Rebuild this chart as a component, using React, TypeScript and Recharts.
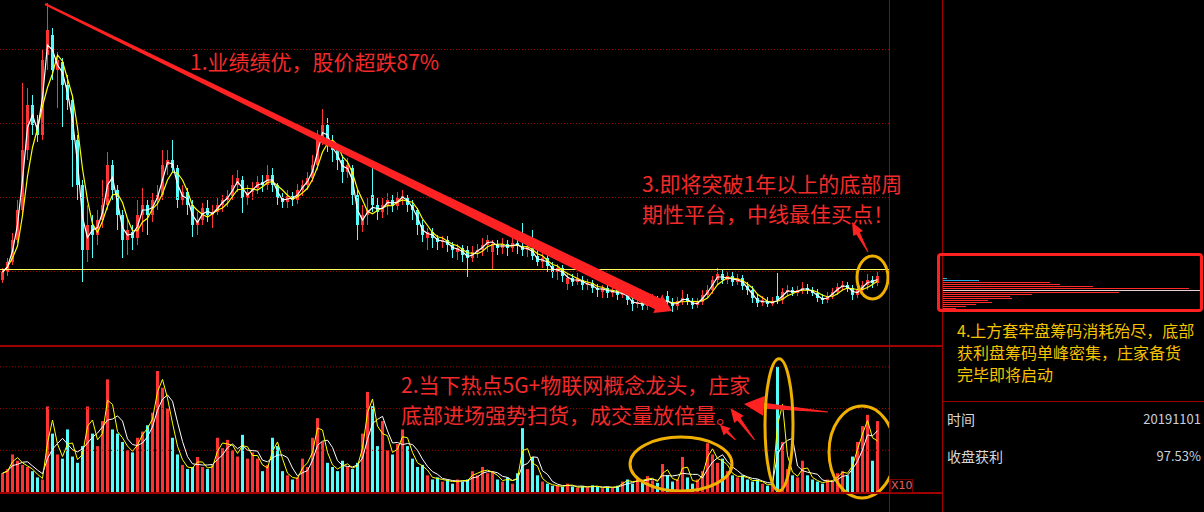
import React from 'react';
import { ComposedChart, BarChart, Bar, Line, XAxis, YAxis, ReferenceLine, ReferenceDot, Cell } from 'recharts';

// ---------- data ----------
const openP = [
  6.5, 7.3, 8.3, 10.5, 13.5, 19.5, 24.0, 22.0, 21.0, 29.0,
  31.0, 27.5, 28.3, 26.0, 24.5, 20.5, 16.0, 9.5, 12.0, 11.0,
  12.5, 14.0, 18.0, 15.5, 13.0, 10.5, 11.3, 10.7, 13.0, 14.0,
  13.0, 14.5, 15.0, 18.0, 18.5, 17.7, 14.5, 15.3, 14.0, 12.0,
  12.5, 13.7, 13.0, 13.3, 14.0, 14.5, 14.9, 16.0, 16.5, 14.7,
  15.3, 15.7, 16.3, 16.0, 17.0, 16.0, 14.7, 14.3, 14.9, 14.5,
  15.5, 16.0, 16.7, 18.0, 20.5, 22.0, 20.0, 19.5, 18.5, 17.3,
  17.7, 15.0, 12.0, 13.0, 15.0, 14.0, 13.3, 14.0, 14.5, 13.9,
  14.7, 14.7, 14.0, 13.5, 12.0, 10.7, 11.3, 10.7, 10.3, 10.5,
  10.0, 9.3, 9.7, 9.5, 8.7, 9.3, 9.5, 10.0, 9.3, 10.1,
  9.7, 10.1, 9.7, 10.2, 9.9, 9.5, 9.7, 8.9, 8.3, 8.7,
  7.9, 7.3, 7.7, 6.1, 6.7, 6.3, 6.5, 6.0, 6.2, 5.7,
  5.3, 5.7, 5.2, 5.5, 5.0, 5.2, 4.5, 4.1, 4.3, 3.9,
  4.3, 4.5, 4.2, 4.9, 4.3, 3.9, 4.4, 4.7, 4.4, 4.0,
  4.3, 5.0, 5.5, 6.5, 7.1, 6.5, 6.9, 6.3, 6.7, 5.9,
  5.5, 4.7, 4.2, 4.4, 4.1, 4.9, 4.5, 5.3, 5.5, 5.2,
  5.5, 5.7, 5.5, 5.2, 4.7, 4.5, 4.9, 5.3, 5.8, 6.0,
  5.7, 5.0, 5.5, 6.0, 6.5, 6.2,
];
const closeP = [
  7.3, 8.3, 10.5, 13.5, 19.5, 24.0, 22.0, 21.0, 28.5, 31.5,
  27.5, 28.5, 26.0, 24.5, 20.5, 16.0, 9.5, 12.0, 11.0, 12.5,
  14.0, 18.0, 15.5, 13.0, 10.5, 11.5, 10.7, 13.0, 14.0, 13.0,
  14.5, 15.0, 18.0, 18.5, 17.7, 14.5, 15.3, 14.0, 12.0, 12.5,
  13.7, 13.0, 13.3, 14.0, 14.5, 14.9, 16.0, 16.7, 14.7, 15.3,
  15.7, 16.3, 16.0, 17.0, 16.0, 14.7, 14.3, 14.9, 14.5, 15.5,
  16.0, 16.7, 18.0, 20.5, 22.0, 20.0, 19.5, 18.5, 17.3, 18.0,
  15.0, 12.0, 13.0, 13.5, 14.0, 13.3, 14.0, 14.5, 13.9, 14.7,
  14.9, 14.0, 13.5, 12.0, 11.0, 11.3, 10.7, 10.3, 10.5, 10.0,
  9.5, 9.7, 9.0, 8.7, 9.3, 9.5, 10.0, 10.5, 10.1, 9.7,
  10.1, 9.7, 10.2, 9.9, 9.5, 9.8, 8.9, 8.3, 8.7, 7.9,
  7.3, 7.7, 6.9, 6.7, 6.3, 6.7, 6.0, 6.2, 5.7, 5.5,
  5.7, 5.2, 5.5, 5.0, 5.3, 4.5, 4.1, 4.3, 3.9, 4.3,
  4.5, 4.2, 4.5, 4.3, 3.9, 4.4, 4.7, 4.4, 4.0, 4.3,
  5.0, 5.5, 6.5, 7.1, 6.5, 6.9, 6.3, 6.7, 5.9, 5.5,
  4.7, 4.2, 4.5, 4.1, 4.4, 4.5, 5.3, 5.5, 5.2, 5.5,
  5.7, 5.5, 5.2, 4.7, 4.5, 4.9, 5.3, 5.8, 6.0, 5.7,
  5.0, 5.5, 6.0, 6.5, 6.2, 6.9,
];
const highP = [
  7.7, 8.7, 11.2, 14.5, 26.2, 25.7, 25.0, 23.0, 29.5, 34.2,
  31.7, 29.3, 28.7, 27.0, 25.0, 21.0, 16.5, 14.0, 13.0, 13.5,
  16.5, 19.3, 18.5, 16.0, 13.5, 12.5, 12.0, 14.5, 15.7, 14.5,
  15.2, 16.0, 19.5, 19.5, 20.5, 18.0, 16.0, 15.7, 14.5, 13.3,
  14.2, 14.5, 14.0, 14.7, 15.0, 15.5, 17.0, 17.5, 16.9, 16.0,
  16.3, 16.9, 17.0, 18.0, 17.7, 16.2, 15.2, 15.5, 15.3, 16.1,
  16.5, 17.3, 19.0, 21.5, 23.6, 22.7, 21.0, 20.0, 19.0, 18.7,
  18.0, 15.5, 14.0, 14.7, 17.8, 14.7, 14.7, 15.2, 15.0, 15.3,
  15.5, 15.0, 14.5, 13.7, 12.5, 11.7, 11.7, 11.0, 10.9, 10.9,
  10.3, 10.1, 10.0, 9.9, 9.9, 10.1, 10.7, 11.0, 10.5, 10.5,
  10.7, 10.5, 10.7, 10.7, 12.2, 10.5, 11.5, 9.5, 9.3, 9.0,
  8.3, 8.1, 8.0, 7.1, 7.1, 7.2, 6.9, 6.6, 6.5, 6.1,
  6.0, 6.0, 5.9, 5.8, 6.1, 5.5, 4.9, 4.7, 4.7, 4.9,
  5.1, 4.9, 5.0, 5.4, 4.7, 4.8, 5.5, 5.1, 4.7, 4.7,
  5.5, 6.0, 6.9, 7.7, 7.5, 7.3, 7.3, 7.1, 7.0, 6.3,
  5.9, 5.1, 4.9, 4.8, 4.8, 7.2, 5.7, 6.0, 5.8, 5.9,
  6.3, 6.1, 5.8, 5.6, 5.1, 5.3, 5.7, 6.2, 6.4, 6.3,
  6.0, 5.9, 6.4, 7.1, 6.9, 7.3,
];
const lowP = [
  6.2, 6.9, 8.0, 10.2, 13.0, 18.5, 21.0, 20.3, 20.5, 27.5,
  26.5, 23.7, 21.8, 23.5, 15.8, 14.5, 6.3, 8.3, 8.7, 10.0,
  11.7, 13.5, 14.5, 11.5, 8.7, 9.0, 9.5, 10.0, 11.3, 11.0,
  12.3, 13.5, 14.5, 17.0, 17.3, 13.7, 14.0, 13.0, 10.8, 11.0,
  12.0, 12.3, 11.7, 13.0, 13.3, 13.8, 14.5, 15.3, 13.2, 14.0,
  14.5, 15.1, 15.3, 15.5, 15.3, 14.0, 13.7, 13.7, 13.9, 14.1,
  14.9, 15.5, 16.3, 17.5, 20.0, 19.3, 18.3, 17.5, 16.2, 16.7,
  14.0, 10.5, 11.3, 12.0, 13.3, 12.5, 12.7, 13.0, 13.3, 13.5,
  14.0, 13.3, 12.5, 11.0, 10.3, 9.5, 9.7, 9.5, 9.7, 9.3,
  8.7, 8.5, 8.3, 6.8, 8.3, 8.7, 8.9, 9.3, 7.5, 9.0,
  9.1, 8.9, 9.3, 9.1, 8.9, 8.8, 8.5, 7.9, 7.7, 7.3,
  6.7, 6.5, 6.3, 5.5, 5.9, 6.0, 5.5, 5.5, 5.2, 4.8,
  4.7, 4.7, 4.8, 4.5, 4.7, 4.0, 3.4, 3.7, 3.5, 3.5,
  3.8, 3.7, 3.7, 3.9, 3.3, 3.5, 4.0, 4.0, 3.6, 3.7,
  4.0, 4.7, 5.1, 6.1, 6.1, 6.1, 5.9, 6.0, 5.5, 5.0,
  4.2, 3.8, 3.9, 3.8, 3.9, 4.1, 4.1, 4.9, 4.9, 4.9,
  5.1, 5.1, 4.9, 4.3, 4.1, 4.2, 4.6, 5.0, 5.4, 5.3,
  4.5, 4.7, 5.2, 5.5, 5.7, 5.9,
];
const volume = [
  4.5, 5.5, 9.0, 7.5, 6.5, 6.0, 5.0, 3.5, 3.0, 20.5,
  14.0, 9.0, 8.0, 15.0, 8.5, 7.0, 11.0, 20.5, 14.0, 11.0,
  17.0, 27.0, 15.0, 14.0, 12.0, 10.0, 9.5, 13.0, 14.5, 16.0,
  19.0, 29.0, 25.0, 20.0, 13.0, 9.0, 6.5, 5.5, 6.0, 8.4,
  6.0, 5.5, 6.5, 13.0, 10.5, 12.5, 10.0, 8.5, 13.7, 8.0,
  9.5, 8.0, 5.0, 6.5, 13.0, 11.0, 5.0, 4.0, 3.0, 3.5,
  8.0, 6.0, 13.0, 17.7, 12.0, 7.0, 6.0, 5.0, 7.5, 6.0,
  5.5, 7.0, 14.0, 24.0, 20.6, 11.0, 17.0, 10.0, 9.0, 11.5,
  15.0, 11.0, 8.0, 6.0, 6.5, 4.0, 3.0, 3.5, 2.5, 3.0,
  2.0, 3.0, 2.5, 3.0, 5.0, 4.0, 6.0, 4.5, 5.0, 3.0,
  2.5, 3.5, 2.0, 4.5, 15.3, 5.5, 8.4, 4.0, 2.5, 2.0,
  1.5, 1.5, 1.2, 2.0, 1.3, 1.0, 1.4, 1.1, 1.6, 1.2,
  0.9, 1.3, 1.0, 1.5, 2.5, 3.0, 2.0, 3.2, 2.4, 3.8,
  2.8, 2.2, 6.7, 4.0, 2.5, 3.0, 8.4, 3.5, 2.0, 3.0,
  5.0, 11.7, 9.0, 7.0, 8.0, 5.0, 4.0, 3.5, 4.0, 3.0,
  2.5, 3.0, 2.0, 1.5, 2.0, 30.0, 12.0, 5.5, 4.0, 3.5,
  7.5, 4.0, 3.0, 2.5, 2.0, 3.0, 2.5, 4.5, 5.0, 4.0,
  8.5, 12.0, 15.8, 18.5, 7.5, 17.0,
];

// chip distribution (price level -> chips)
const chipPrice = [6.7, 6.5, 6.3, 6.1, 5.9, 5.7, 5.5, 5.3, 5.1, 4.9, 4.7, 4.5, 4.3, 4.1, 3.9, 3.7];
const chipAmount = [5, 37, 108, 118, 151, 247, 261, 177, 90, 68, 70, 46, 50, 34, 24, 14];
const chipKind = ['trapped', 'trapped', 'profit', 'profit', 'profit', 'profit', 'average', 'profit', 'profit', 'profit', 'profit', 'profit', 'profit', 'profit', 'profit', 'profit'];

const priceGrid = [7.35, 14.75, 22.15, 29.55];
const volumeGrid = [10, 20, 30];
const platformPrice = 7.55;

// ---------- styles ----------
const RED = '#ff3434';
const CYAN = '#54fcfc';
const GRID = '#a00000';
const FRAME = '#a00000';
const NOTE_RED = '#f22a2a';
const GOLD = '#f0b000';

function movingAverage(values: number[], n: number) {
  return values.map((_, i) => {
    const s = Math.max(0, i - n + 1);
    const w = values.slice(s, i + 1);
    return w.reduce((a, b) => a + b, 0) / w.length;
  });
}

const maFast = movingAverage(closeP, 2);
const maSlow = movingAverage(closeP, 4);
const vmaFast = movingAverage(volume, 2);
const vmaSlow = movingAverage(volume, 4);

const rows = openP.map((o, i) => ({
  i,
  open: o,
  close: closeP[i],
  high: highP[i],
  low: lowP[i],
  range: [lowP[i], highP[i]],
  maFast: maFast[i],
  maSlow: maSlow[i],
  vol: volume[i],
  vmaFast: vmaFast[i],
  vmaSlow: vmaSlow[i],
}));

const chipRows = chipPrice.map((p, k) => ({ price: p, amt: chipAmount[k], kind: chipKind[k] }));
const chipColor: Record<string, string> = { trapped: '#2ab0e8', profit: '#ff2a2a', average: '#e8d0d0' };

const Candle = (props: any) => {
  const { x, y, width, height, payload } = props;
  if (!payload) return null;
  const { open, close, high, low } = payload;
  const top = Math.min(y, y + height);
  const h = Math.abs(height);
  const ppu = h / Math.max(high - low, 1e-6);
  const yo = top + (high - open) * ppu;
  const yc = top + (high - close) * ppu;
  const color = close >= open ? RED : CYAN;
  const bodyTop = Math.min(yo, yc);
  const bodyH = Math.max(Math.abs(yo - yc), 1);
  const cx = x + width / 2;
  return (
    <g>
      <line x1={cx} x2={cx} y1={top} y2={top + h} stroke={color} strokeWidth={1} />
      <rect x={x} y={bodyTop} width={width} height={bodyH} fill={color} />
    </g>
  );
};

function arrowShape(w0: number, w1: number, headLen: number, headHalf: number, color: string) {
  return (p: any) => {
    const { x1, y1, x2, y2 } = p;
    const dx = x2 - x1;
    const dy = y2 - y1;
    const L = Math.hypot(dx, dy) || 1;
    const ux = dx / L;
    const uy = dy / L;
    const nx = -uy;
    const ny = ux;
    const bx = x2 - ux * headLen;
    const by = y2 - uy * headLen;
    const pts = [
      [x1 + (nx * w0) / 2, y1 + (ny * w0) / 2],
      [bx + (nx * w1) / 2, by + (ny * w1) / 2],
      [bx + nx * headHalf, by + ny * headHalf],
      [x2, y2],
      [bx - nx * headHalf, by - ny * headHalf],
      [bx - (nx * w1) / 2, by - (ny * w1) / 2],
      [x1 - (nx * w0) / 2, y1 - (ny * w0) / 2],
    ];
    return <polygon points={pts.map((q) => q.join(',')).join(' ')} fill={color} />;
  };
}

function ellipseShape(rx: number, ry: number) {
  return (p: any) => (
    <ellipse cx={p.cx} cy={p.cy} rx={rx} ry={ry} fill="none" stroke={GOLD} strokeWidth={3} />
  );
}

const abs = (l: number, t: number, w: number, h: number, bg: string): React.CSSProperties => ({
  position: 'absolute', left: l, top: t, width: w, height: h, background: bg,
});

const noteStyle = (l: number, t: number, size: number, color: string, lh: number): React.CSSProperties => ({
  position: 'absolute', left: l, top: t, fontSize: size, lineHeight: `${lh}px`, color,
  whiteSpace: 'nowrap', fontFamily: '"Noto Sans CJK SC", sans-serif',
});

export default function App() {
  return (
    <div style={{ position: 'absolute', left: 0, top: 0, width: 1204, height: 512, background: '#000', overflow: 'hidden', fontFamily: '"Noto Sans CJK SC", sans-serif' }}>
      {/* price panel */}
      <div style={{ position: 'absolute', left: 0, top: 0 }}>
        <ComposedChart width={889} height={345} data={rows} margin={{ top: 0, right: 0, bottom: 0, left: 0 }}>
          <XAxis type="number" dataKey="i" domain={[-0.5, 177.3]} hide allowDataOverflow />
          <YAxis type="number" domain={[0, 34.5]} hide allowDataOverflow />
          {priceGrid.map((v) => (
            <ReferenceLine key={v} y={v} stroke={GRID} strokeDasharray="1 2" />
          ))}
          <ReferenceLine y={platformPrice} stroke="#ffff60" strokeWidth={1} />
          <Bar dataKey="range" barSize={3} shape={Candle} isAnimationActive={false} />
          <Line dataKey="maSlow" type="linear" stroke="#ffff00" strokeWidth={1.2} dot={false} activeDot={false} isAnimationActive={false} />
          <Line dataKey="maFast" type="linear" stroke="#ffffff" strokeWidth={1.2} dot={false} activeDot={false} isAnimationActive={false} />
          <ReferenceLine segment={[{ x: 8.5, y: 34.1 }, { x: 133.9, y: 3.4 }]} ifOverflow="visible" shape={arrowShape(2, 12, 16, 10, '#ff2222')} />
          <ReferenceLine segment={[{ x: 173.1, y: 9.3 }, { x: 169.9, y: 12.3 }]} ifOverflow="visible" shape={arrowShape(1, 4, 13, 5.5, '#ff2222')} />
          <ReferenceDot x={174} y={6.75} r={1} ifOverflow="visible" shape={ellipseShape(15.5, 21.5)} />
        </ComposedChart>
      </div>

      {/* volume panel */}
      <div style={{ position: 'absolute', left: 0, top: 346 }}>
        <ComposedChart width={889} height={166} data={rows} margin={{ top: 0, right: 0, bottom: 20, left: 0 }}>
          <XAxis type="number" dataKey="i" domain={[-0.5, 177.3]} hide allowDataOverflow />
          <YAxis type="number" domain={[0, 35]} hide allowDataOverflow />
          {volumeGrid.map((v) => (
            <ReferenceLine key={v} y={v} stroke={GRID} strokeDasharray="1 2" />
          ))}
          <Bar dataKey="vol" barSize={3} isAnimationActive={false}>
            {rows.map((r) => (
              <Cell key={r.i} fill={r.close >= r.open ? RED : CYAN} />
            ))}
          </Bar>
          <Line dataKey="vmaSlow" type="linear" stroke="#ffffff" strokeWidth={1} dot={false} activeDot={false} isAnimationActive={false} />
          <Line dataKey="vmaFast" type="linear" stroke="#ffff00" strokeWidth={1} dot={false} activeDot={false} isAnimationActive={false} />
          <ReferenceLine segment={[{ x: 165.1, y: 19.2 }, { x: 148.3, y: 21.1 }]} ifOverflow="visible" shape={arrowShape(1, 6, 20, 10, '#ff2222')} />
          <ReferenceLine segment={[{ x: 150.4, y: 12.5 }, { x: 145.6, y: 20.1 }]} ifOverflow="visible" shape={arrowShape(1, 4, 14, 6, '#ff2222')} />
          <ReferenceLine segment={[{ x: 146.6, y: 12.5 }, { x: 143.5, y: 16.1 }]} ifOverflow="visible" shape={arrowShape(1, 3, 10, 5, '#ff2222')} />
          <ReferenceDot x={135.7} y={6.7} r={1} ifOverflow="visible" shape={ellipseShape(51, 27)} />
          <ReferenceDot x={155.3} y={16.1} r={1} ifOverflow="visible" shape={ellipseShape(14, 66)} />
          <ReferenceDot x={171.9} y={9.6} r={1} ifOverflow="visible" shape={ellipseShape(33, 46)} />
        </ComposedChart>
      </div>

      {/* chip distribution */}
      <div style={{ position: 'absolute', left: 942, top: 0 }}>
        <BarChart layout="vertical" width={262} height={345} data={chipRows} margin={{ top: 0, right: 0, bottom: 0, left: 0 }}>
          <XAxis type="number" domain={[0, 262]} hide allowDataOverflow />
          <YAxis type="number" dataKey="price" domain={[0, 34.5]} reversed hide allowDataOverflow />
          <Bar dataKey="amt" barSize={1} isAnimationActive={false}>
            {chipRows.map((r, k) => (
              <Cell key={k} fill={chipColor[r.kind]} />
            ))}
          </Bar>
        </BarChart>
      </div>

      {/* frame lines */}
      <div style={abs(0, 345, 942, 2, FRAME)} />
      <div style={abs(0, 492, 942, 2, FRAME)} />
      <div style={abs(889, 0, 1, 512, FRAME)} />
      <div style={abs(942, 0, 1, 512, FRAME)} />
      <div style={abs(942, 401, 262, 1, FRAME)} />

      {/* chip frame */}
      <div style={{ position: 'absolute', left: 937, top: 253, width: 260, height: 53, border: '3px solid #ff2020', borderRadius: 4 }} />

      {/* X10 label */}
      <div style={{ position: 'absolute', left: 890, top: 479, width: 21, height: 12, border: '1px solid #7a0000', color: '#e06060', fontSize: 11, lineHeight: '12px', textAlign: 'center', fontFamily: 'DejaVu Sans, sans-serif' }}>X10</div>

      {/* annotations */}
      <div style={noteStyle(190, 46, 21, NOTE_RED, 30)}>1.业绩绩优，股价超跌87%</div>
      <div style={noteStyle(642, 168, 21, NOTE_RED, 30)}>
        3.即将突破1年以上的底部周<br />期性平台，中线最佳买点！
      </div>
      <div style={noteStyle(401, 369, 21, NOTE_RED, 30)}>
        2.当下热点5G+物联网概念龙头，庄家<br />底部进场强势扫货，成交量放倍量。
      </div>
      <div style={noteStyle(957, 319, 16, '#f5c400', 22)}>
        4.上方套牢盘筹码消耗殆尽，底部<br />获利盘筹码单峰密集，庄家备货<br />完毕即将启动
      </div>

      {/* info */}
      <div style={noteStyle(947, 409, 14, '#d8d8d8', 20)}>时间</div>
      <div style={{ ...noteStyle(0, 409, 13, '#c8d0dc', 20), left: 'auto', right: 3 }}>20191101</div>
      <div style={noteStyle(947, 446, 14, '#d8d8d8', 20)}>收盘获利</div>
      <div style={{ ...noteStyle(0, 446, 13, '#c8d0dc', 20), left: 'auto', right: 3 }}>97.53%</div>
    </div>
  );
}
